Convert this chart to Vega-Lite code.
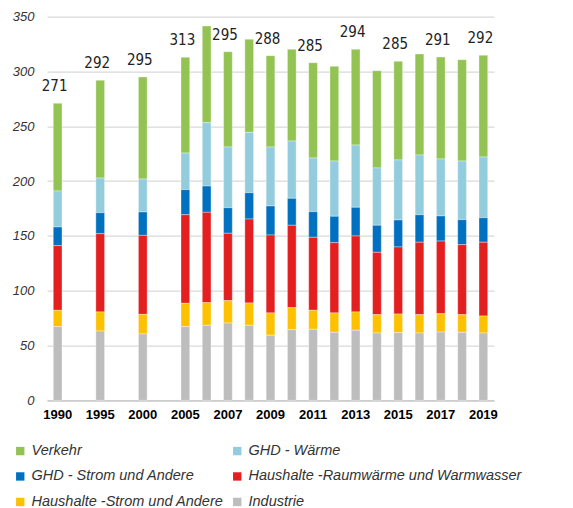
{
  "$schema": "https://vega.github.io/schema/vega-lite/v6.json",
  "width": 447,
  "height": 383.6,
  "autosize": {"type": "none"},
  "padding": {"left": 47, "top": 16.7, "right": 79, "bottom": 107.7},
  "config": {"view": {"stroke": null}, "font": "Liberation Sans"},
  "data": {
    "values": [
      {"year": "1990", "Industrie": 67.2, "Haushalte -Strom und Andere": 14.9, "Haushalte -Raumwärme und Warmwasser": 59.0, "GHD - Strom und Andere": 17.0, "GHD - Wärme": 32.9, "Verkehr": 80.0, "label": "271"},
      {"year": "1995", "Industrie": 63.2, "Haushalte -Strom und Andere": 17.4, "Haushalte -Raumwärme und Warmwasser": 71.4, "GHD - Strom und Andere": 19.2, "GHD - Wärme": 31.6, "Verkehr": 89.2, "label": "292"},
      {"year": "2000", "Industrie": 60.5, "Haushalte -Strom und Andere": 17.9, "Haushalte -Raumwärme und Warmwasser": 72.1, "GHD - Strom und Andere": 21.3, "GHD - Wärme": 30.1, "Verkehr": 93.1, "label": "295"},
      {"year": "2005", "Industrie": 67.2, "Haushalte -Strom und Andere": 21.3, "Haushalte -Raumwärme und Warmwasser": 80.8, "GHD - Strom und Andere": 22.9, "GHD - Wärme": 33.4, "Verkehr": 87.4, "label": "313"},
      {"year": "2006", "Industrie": 68.4, "Haushalte -Strom und Andere": 20.7, "Haushalte -Raumwärme und Warmwasser": 82.4, "GHD - Strom und Andere": 24.0, "GHD - Wärme": 57.8, "Verkehr": 88.2, "label": null},
      {"year": "2007", "Industrie": 70.5, "Haushalte -Strom und Andere": 20.4, "Haushalte -Raumwärme und Warmwasser": 61.5, "GHD - Strom und Andere": 23.3, "GHD - Wärme": 55.4, "Verkehr": 86.9, "label": "295"},
      {"year": "2008", "Industrie": 68.4, "Haushalte -Strom und Andere": 20.4, "Haushalte -Raumwärme und Warmwasser": 76.6, "GHD - Strom und Andere": 24.0, "GHD - Wärme": 55.1, "Verkehr": 84.9, "label": null},
      {"year": "2009", "Industrie": 59.3, "Haushalte -Strom und Andere": 20.4, "Haushalte -Raumwärme und Warmwasser": 71.1, "GHD - Strom und Andere": 26.5, "GHD - Wärme": 53.8, "Verkehr": 83.3, "label": "288"},
      {"year": "2010", "Industrie": 64.4, "Haushalte -Strom und Andere": 20.1, "Haushalte -Raumwärme und Warmwasser": 75.2, "GHD - Strom und Andere": 24.6, "GHD - Wärme": 52.3, "Verkehr": 83.7, "label": null},
      {"year": "2011", "Industrie": 64.8, "Haushalte -Strom und Andere": 17.3, "Haushalte -Raumwärme und Warmwasser": 66.6, "GHD - Strom und Andere": 23.4, "GHD - Wärme": 49.0, "Verkehr": 86.9, "label": "285"},
      {"year": "2012", "Industrie": 62.0, "Haushalte -Strom und Andere": 17.7, "Haushalte -Raumwärme und Warmwasser": 64.1, "GHD - Strom und Andere": 24.1, "GHD - Wärme": 50.4, "Verkehr": 86.4, "label": null},
      {"year": "2013", "Industrie": 63.9, "Haushalte -Strom und Andere": 16.7, "Haushalte -Raumwärme und Warmwasser": 69.3, "GHD - Strom und Andere": 26.2, "GHD - Wärme": 56.8, "Verkehr": 87.4, "label": "294"},
      {"year": "2014", "Industrie": 61.4, "Haushalte -Strom und Andere": 16.7, "Haushalte -Raumwärme und Warmwasser": 56.9, "GHD - Strom und Andere": 24.7, "GHD - Wärme": 52.3, "Verkehr": 88.7, "label": null},
      {"year": "2015", "Industrie": 61.7, "Haushalte -Strom und Andere": 17.0, "Haushalte -Raumwärme und Warmwasser": 61.2, "GHD - Strom und Andere": 24.6, "GHD - Wärme": 54.8, "Verkehr": 90.0, "label": "285"},
      {"year": "2016", "Industrie": 61.4, "Haushalte -Strom und Andere": 16.7, "Haushalte -Raumwärme und Warmwasser": 66.1, "GHD - Strom und Andere": 25.1, "GHD - Wärme": 54.5, "Verkehr": 92.2, "label": null},
      {"year": "2017", "Industrie": 62.3, "Haushalte -Strom und Andere": 16.7, "Haushalte -Raumwärme und Warmwasser": 66.3, "GHD - Strom und Andere": 22.9, "GHD - Wärme": 52.0, "Verkehr": 93.0, "label": "291"},
      {"year": "2018", "Industrie": 62.0, "Haushalte -Strom und Andere": 16.1, "Haushalte -Raumwärme und Warmwasser": 63.9, "GHD - Strom und Andere": 22.8, "GHD - Wärme": 53.5, "Verkehr": 92.5, "label": null},
      {"year": "2019", "Industrie": 61.4, "Haushalte -Strom und Andere": 15.5, "Haushalte -Raumwärme und Warmwasser": 67.3, "GHD - Strom und Andere": 22.4, "GHD - Wärme": 55.4, "Verkehr": 92.8, "label": "292"}
    ]
  },
  "transform": [
    {"fold": ["Verkehr", "GHD - Wärme", "GHD - Strom und Andere", "Haushalte -Raumwärme und Warmwasser", "Haushalte -Strom und Andere", "Industrie"], "as": ["sector", "value"]},
    {"calculate": "indexof(['Verkehr', 'GHD - Wärme', 'GHD - Strom und Andere', 'Haushalte -Raumwärme und Warmwasser', 'Haushalte -Strom und Andere', 'Industrie'], datum.sector)", "as": "ord"}
  ],
  "layer": [
    {
      "mark": {"type": "bar", "stroke": "white", "strokeWidth": 0.5, "strokeOpacity": 0.7},
      "encoding": {
        "x": {
          "field": "year", "type": "ordinal",
          "scale": {"domain": ["1990", "g1", "1995", "g2", "2000", "g3", "2005", "2006", "2007", "2008", "2009", "2010", "2011", "2012", "2013", "2014", "2015", "2016", "2017", "2018", "2019"], "paddingInner": 0.59, "paddingOuter": 0.295},
          "axis": {"title": null, "values": ["1990", "1995", "2000", "2005", "2007", "2009", "2011", "2013", "2015", "2017", "2019"], "labelAngle": 0, "labelFontWeight": "bold", "labelFontSize": 13, "labelColor": "#000", "ticks": false, "domainColor": "#bfbfbf", "domainWidth": 1, "labelPadding": 8, "grid": false}
        },
        "y": {
          "field": "value", "type": "quantitative", "stack": "zero",
          "scale": {"domain": [0, 350], "nice": false},
          "axis": {"title": null, "values": [0, 50, 100, 150, 200, 250, 300, 350], "labelFontStyle": "italic", "labelFontSize": 13, "labelColor": "#333", "domain": false, "ticks": false, "labelPadding": 13, "gridColor": "#d9d9d9", "gridWidth": 1.2}
        },
        "color": {
          "field": "sector", "type": "nominal",
          "sort": ["Verkehr", "GHD - Wärme", "GHD - Strom und Andere", "Haushalte -Raumwärme und Warmwasser", "Haushalte -Strom und Andere", "Industrie"],
          "scale": {"domain": ["Verkehr", "GHD - Wärme", "GHD - Strom und Andere", "Haushalte -Raumwärme und Warmwasser", "Haushalte -Strom und Andere", "Industrie"], "range": ["#92c353", "#93cddd", "#0070c0", "#e41f1f", "#fdc100", "#bdbdbd"]},
          "legend": {"title": null, "orient": "none", "legendX": -34, "legendY": 427, "direction": "horizontal", "columns": 2, "symbolType": "square", "symbolSize": 70, "symbolStrokeWidth": 0, "labelFontSize": 14.5, "labelFontStyle": "italic", "labelColor": "#333", "labelOffset": 4, "rowPadding": 10.5, "columnPadding": 6, "labelLimit": 400}
        },
        "order": {"field": "ord", "type": "quantitative", "sort": "descending"}
      }
    },
    {
      "transform": [
        {"filter": "datum.label != null"},
        {"aggregate": [{"op": "sum", "field": "value", "as": "total"}], "groupby": ["year", "label"]}
      ],
      "mark": {"type": "text", "font": "DejaVu Sans Condensed, Liberation Sans, sans-serif", "fontSize": 15, "color": "#222", "baseline": "alphabetic", "dy": -12, "dx": -3},
      "encoding": {
        "x": {"field": "year", "type": "ordinal"},
        "y": {"field": "total", "type": "quantitative"},
        "text": {"field": "label"}
      }
    }
  ]
}
